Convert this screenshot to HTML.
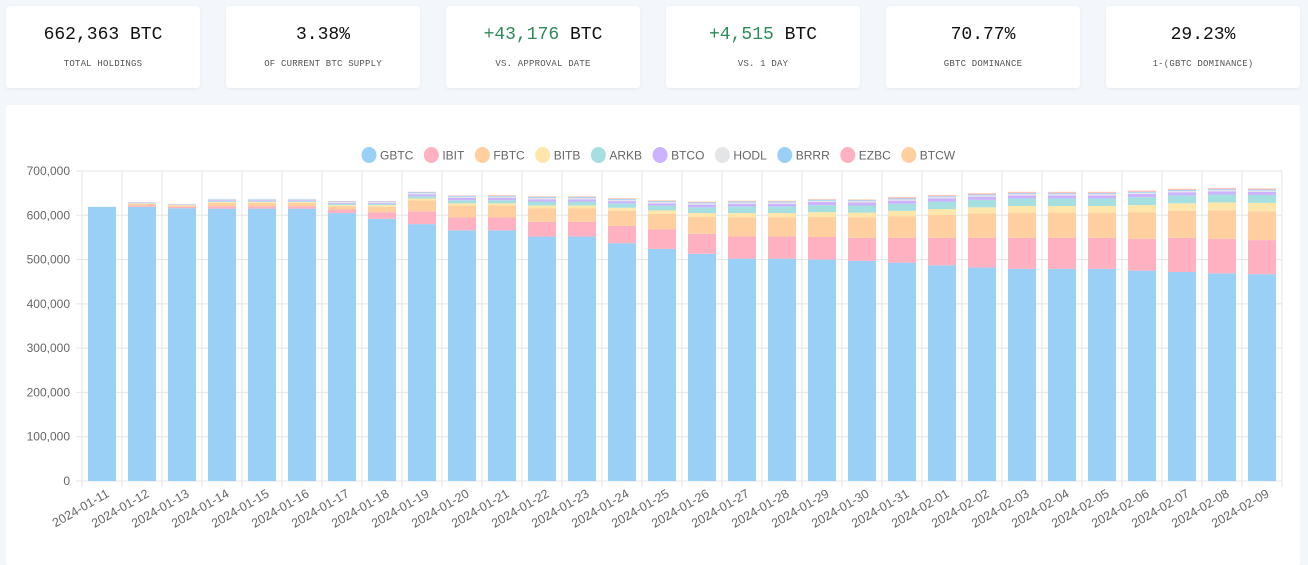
<!DOCTYPE html>
<html><head><meta charset="utf-8"><style>
body{margin:0;width:1308px;height:549px;background:#f3f6fa;font-family:"Liberation Sans",sans-serif;overflow:hidden;position:relative}
.card{position:absolute;top:6px;width:194px;height:82px;background:#fff;border-radius:3px;box-shadow:0 1px 3px rgba(0,0,0,0.06);text-align:center}
.card .v{font-family:"Liberation Mono",monospace;font-size:18px;color:#111;margin-top:19px;height:22px}
.card .l{font-family:"Liberation Mono",monospace;font-size:9px;color:#555;margin-top:12px;letter-spacing:0.2px}
.g{color:#2e8b57}
#chartcard{position:absolute;left:6px;top:105px;width:1294px;height:460px;background:#fff;border-radius:3px}
svg{position:absolute;left:0;top:0}
</style></head><body>
<div class="card" style="left:6px"><div class="v">662,363 BTC</div><div class="l">TOTAL HOLDINGS</div></div>
<div class="card" style="left:226px"><div class="v">3.38%</div><div class="l">OF CURRENT BTC SUPPLY</div></div>
<div class="card" style="left:446px"><div class="v"><span class="g">+43,176</span> BTC</div><div class="l">VS. APPROVAL DATE</div></div>
<div class="card" style="left:666px"><div class="v"><span class="g">+4,515</span> BTC</div><div class="l">VS. 1 DAY</div></div>
<div class="card" style="left:886px"><div class="v">70.77%</div><div class="l">GBTC DOMINANCE</div></div>
<div class="card" style="left:1106px"><div class="v">29.23%</div><div class="l">1-(GBTC DOMINANCE)</div></div>
<div id="chartcard"></div>
<svg id="chart" width="1308" height="549"></svg>
<script>
const dates=["2024-01-11","2024-01-12","2024-01-13","2024-01-14","2024-01-15","2024-01-16","2024-01-17","2024-01-18","2024-01-19","2024-01-20","2024-01-21","2024-01-22","2024-01-23","2024-01-24","2024-01-25","2024-01-26","2024-01-27","2024-01-28","2024-01-29","2024-01-30","2024-01-31","2024-02-01","2024-02-02","2024-02-03","2024-02-04","2024-02-05","2024-02-06","2024-02-07","2024-02-08","2024-02-09"];
const seriesNames=["GBTC","IBIT","FBTC","BITB","ARKB","BTCO","HODL","BRRR","EZBC","BTCW"];
const GBTC=[619,619,616,615,615,615,605,592,580,566,566,552,552,537,524,513,502,502,500,497,493,487,482,479,479,479,475,472,469,467];
const IBIT=[0,3,3,5,5,5,8,15,29,29,29,33,33,39,44,45,50,50,51,52,56,62,67,70,70,70,72,77,78,77];
const FBTC=[0,4,3,8,8,8,7,12,25,27,27,31,31,34,35,38,43,43,45,46,49,52,55,57,57,57,60,61,64,65];
const BITB=[0,1,1,2,2,2,3,4,4,5,5,6,6,7,8,9,10,10,11,11,12,13,14,15,15,15,16,17,18,19];
const ARKB=[0,1,1,2,2,2,3,3,5,7,7,9,9,10,11,13,15,15,16,16,16,17,17,17,17,17,18,18,18,18];
const BTCO=[0,1,1,2,2,2,2,2,4,5,5,5,5,5,5,6,6,6,7,7,7,7,7,7,7,7,7,7,7,7];
const HODL=[0,1,1,2,2,2,2,2,3,3,3,3,3,3,3,3,3,3,3,3,3,3,3,3,3,3,3,3,3,3];
const BRRR=[0,0,0,1,1,1,1,1,2,2,2,2,2,2,2,2,2,2,2,2,2,2,2,2,2,2,2,2,2,2];
const EZBC=[0,0,0,0,0,0,1,1,1,1,1,1,1,1,1,1,1,1,1,1,2,2,2,2,2,2,2,2,2,2];
const BTCW=[0,0,0,0,0,0,0,0,0,0,1,1,1,1,1,1,1,1,1,1,1,1,1,1,1,1,1,1,1,1];
const yTicks=[0,100000,200000,300000,400000,500000,600000,700000];
const series=[GBTC,IBIT,FBTC,BITB,ARKB,BTCO,HODL,BRRR,EZBC,BTCW];
const colors=["#9ad0f5","#ffb1c1","#ffcf9f","#ffe6aa","#a5dfdf","#ccb2ff","#e4e5e7","#9ad0f5","#ffb1c1","#ffcf9f"];
const NS="http://www.w3.org/2000/svg";
const svg=document.getElementById('chart');
const L=82,R=1282,T=171,B=481,YMAX=700000;
const bw=(R-L)/dates.length;
const y=v=>B-(v/YMAX)*(B-T);
const x=i=>L+i*bw;
function el(t,a){const e=document.createElementNS(NS,t);for(const k in a)e.setAttribute(k,a[k]);svg.appendChild(e);return e;}
yTicks.forEach(t=>{
 const g=el('line',{x1:L-6,x2:R,y1:y(t),y2:y(t),stroke:"#e5e5e5","stroke-width":1});
 
 
 const tx=el('text',{x:L-12,y:y(t)+4,"text-anchor":"end","font-size":12,fill:"#666","font-family":"Liberation Sans, sans-serif"});
 tx.textContent=t.toLocaleString('en-US');
 
 
});
for(let i=0;i<=dates.length;i++){
 const g=el('line',{x1:x(i),x2:x(i),y1:T,y2:B+6,stroke:"#e5e5e5","stroke-width":1});
 
 
}
dates.forEach((d,i)=>{
 let acc=0;
 series.forEach((s,k)=>{
  const v=s[i]*1000; if(v<=0)return;
  const r=el('rect',{x:x(i)+6,width:bw-12,y:y(acc+v),height:y(acc)-y(acc+v),fill:colors[k]});
  
  
  acc+=v;
 });
 const cx=x(i)+bw/2+8,cy=B+15;
 const t=el('text',{x:cx,y:cy,"text-anchor":"end","font-size":12.5,fill:"#666","font-family":"Liberation Sans, sans-serif",transform:`rotate(-30 ${cx} ${cy})`});
 t.textContent=d;
 
 
});
let lx=361;
seriesNames.forEach((n,k)=>{
 const c=el('ellipse',{cx:lx+8,cy:155,rx:7.5,ry:8,fill:colors[k]});
 
 
 const t=el('text',{x:lx+19,y:159.5,"font-size":12,fill:"#666","font-family":"Liberation Sans, sans-serif"});
 t.textContent=n;
 
 
 lx+=19+t.getComputedTextLength()+10;
});
</script>
</body></html>
